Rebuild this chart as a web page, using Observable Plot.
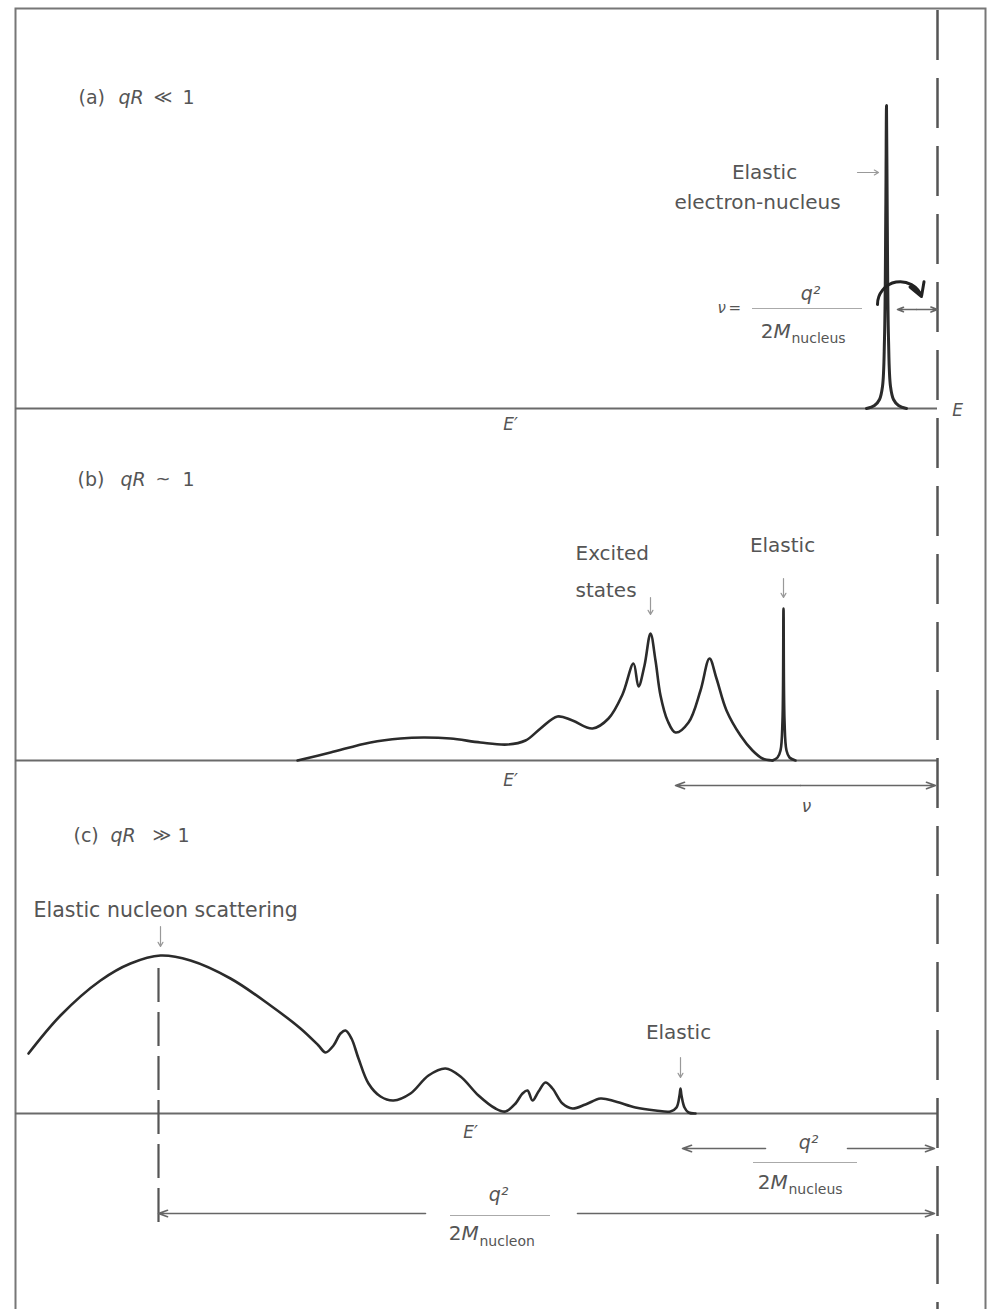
<!DOCTYPE html>
<html>
<head>
<meta charset="utf-8">
<script src="https://cdn.jsdelivr.net/npm/d3@7"></script>
<script src="https://cdn.jsdelivr.net/npm/@observablehq/plot@0.6"></script>
<style>
  html, body { margin: 0; padding: 0; background: #fff; }
  #chart svg { display: block; }
</style>
</head>
<body>
<div id="chart"></div>
<script>
// ---------- DATA (schematic spectra, energy E' in drawing units, intensity above baseline) ----------
const panels = ["a", "b", "c"];
const panelTitles = ["(a)", "(b)", "(c)"];
const panelRelations = ["≪", "~", "≫"];

// Panel (a): qR << 1 — elastic electron-nucleus peak only
const elasticA_E = [866, 874, 879, 882, 884, 885.3, 886, 886.7, 888, 890, 893, 898, 906];
const elasticA_I = [0, 3, 9, 22, 70, 200, 303, 200, 70, 22, 9, 3, 0];

// Panel (b): qR ~ 1 — excited states + elastic
const inelasticB_E = [297, 330, 370, 400, 423, 450, 480, 507, 525, 540, 557, 572, 592, 608, 622, 633, 638, 644, 650, 655, 660, 667, 675, 688, 700, 709, 716, 726, 740, 752, 762, 772];
const inelasticB_I = [0, 8, 18, 22, 23, 22, 18, 16, 20, 32, 44, 40, 32, 42, 66, 97, 74, 95, 127, 100, 65, 40, 28, 38, 70, 102, 82, 50, 25, 10, 2, 0];
const elasticB_E = [772, 777, 780, 782, 783, 784, 786, 789, 795];
const elasticB_I = [0, 3, 10, 40, 152, 40, 10, 3, 0];

// Panel (c): qR >> 1 — quasi-elastic nucleon scattering + small elastic
const spectrumC_E = [28, 60, 100, 130, 160, 190, 230, 270, 300, 318, 325, 333, 340, 345, 351, 358, 368, 380, 393, 410, 428, 445, 460, 478, 495, 505, 515, 522, 527, 532, 538, 545, 552, 562, 572, 585, 600, 615, 635, 655, 670, 676, 679, 680, 681, 684, 688, 695];
const spectrumC_I = [60, 98, 133, 150, 158, 153, 135, 108, 85, 68, 61, 68, 80, 83, 75, 55, 30, 17, 13, 20, 38, 45, 37, 18, 5, 2, 10, 20, 23, 13, 22, 31, 25, 10, 5, 9, 15, 12, 6, 3, 2, 6, 18, 25, 18, 6, 1, 0];

// Key energies
const E_beam = 937;         // incident energy E (dashed line)
const E_nucleonPeak = 158;  // quasi-elastic nucleon peak
const E_elasticB = 783;
const E_elasticC = 681;

// ---------- LAYOUT ----------
const W = 987, H = 1309;
const baseline = { a: 408, b: 760, c: 1113 };

const curves = [
  { id: "a-el", panel: "a", E: elasticA_E, I: elasticA_I, w: 3 },
  { id: "b-in", panel: "b", E: inelasticB_E, I: inelasticB_I, w: 2.6 },
  { id: "b-el", panel: "b", E: elasticB_E, I: elasticB_I, w: 2.6 },
  { id: "c-sp", panel: "c", E: spectrumC_E, I: spectrumC_I, w: 2.6 }
];
const rows = curves.flatMap(c => c.E.map((e, i) => ({ id: c.id, x: e, y: baseline[c.panel] - c.I[i], w: c.w })));

const FONT = "DejaVu Sans, Liberation Sans, sans-serif";
const TXT = "#555";

// panel titles
const titleY = { a: 97, b: 479, c: 835 };
const titleX = { a: [78, 118, 153, 182], b: [77, 120, 155, 182], c: [73, 110, 152, 177] };

const upright = [];   // {t,x,y,anchor,size}
const italic = [];
panels.forEach((p, i) => {
  const xs = titleX[p];
  upright.push({ t: panelTitles[i], x: xs[0], y: titleY[p], anchor: "start", size: 19 });
  italic.push({ t: "qR", x: xs[1], y: titleY[p], anchor: "start", size: 19 });
  upright.push({ t: panelRelations[i], x: xs[2], y: titleY[p], anchor: "start", size: 18 });
  upright.push({ t: "1", x: xs[3], y: titleY[p], anchor: "start", size: 19 });
});

// annotations
upright.push(
  { t: "Elastic", x: 764, y: 172, anchor: "middle", size: 20 },
  { t: "electron-nucleus", x: 757, y: 202, anchor: "middle", size: 20 },
  { t: "=", x: 728, y: 308, anchor: "start", size: 15 },
  { t: "2", x: 773, y: 331, anchor: "end", size: 20 },
  { t: "nucleus", x: 791, y: 338, anchor: "start", size: 14 },
  { t: "Excited", x: 575, y: 553, anchor: "start", size: 20 },
  { t: "states", x: 575, y: 590, anchor: "start", size: 20 },
  { t: "Elastic", x: 782, y: 545, anchor: "middle", size: 20 },
  { t: "Elastic nucleon scattering", x: 33, y: 910, anchor: "start", size: 20.5 },
  { t: "Elastic", x: 678, y: 1032, anchor: "middle", size: 20 },
  { t: "2", x: 770, y: 1182, anchor: "end", size: 20 },
  { t: "nucleus", x: 788, y: 1189, anchor: "start", size: 14 },
  { t: "2", x: 461, y: 1233, anchor: "end", size: 20 },
  { t: "nucleon", x: 479, y: 1241, anchor: "start", size: 14 }
);
italic.push(
  { t: "ν", x: 717, y: 308, anchor: "start", size: 15 },
  { t: "q²", x: 810, y: 293, anchor: "middle", size: 19 },
  { t: "M", x: 773, y: 331, anchor: "start", size: 20 },
  { t: "E′", x: 510, y: 424, anchor: "middle", size: 17 },
  { t: "E", x: 957, y: 410, anchor: "middle", size: 17 },
  { t: "E′", x: 510, y: 780, anchor: "middle", size: 17 },
  { t: "ν", x: 806, y: 806, anchor: "middle", size: 17 },
  { t: "E′", x: 470, y: 1132, anchor: "middle", size: 17 },
  { t: "q²", x: 808, y: 1142, anchor: "middle", size: 19 },
  { t: "M", x: 770, y: 1182, anchor: "start", size: 20 },
  { t: "q²", x: 498, y: 1194, anchor: "middle", size: 19 },
  { t: "M", x: 461, y: 1233, anchor: "start", size: 20 }
);

// fraction bars
const fractionBars = [
  { x1: 752, x2: 862, y: 308 },
  { x1: 753, x2: 857, y: 1162 },
  { x1: 450, x2: 550, y: 1215 }
];

// thin gray pointer arrows
const pointers = [
  { x1: 857, y1: 172, x2: 878, y2: 172 },
  { x1: 650, y1: 597, x2: 650, y2: 614 },
  { x1: 783, y1: 578, x2: 783, y2: 597 },
  { x1: 160, y1: 926, x2: 160, y2: 946 },
  { x1: 680, y1: 1057, x2: 680, y2: 1077 }
];
// dimension arrows (drawn from interior outward)
const dims = [
  { x1: 916, y1: 309, x2: 897, y2: 309 },
  { x1: 916, y1: 309, x2: E_beam, y2: 309 },
  { x1: 800, y1: 785, x2: 675, y2: 785 },
  { x1: 800, y1: 785, x2: E_beam - 2, y2: 785 },
  { x1: 765, y1: 1148, x2: E_elasticC + 1, y2: 1148 },
  { x1: 847, y1: 1148, x2: E_beam - 3, y2: 1148 },
  { x1: 425, y1: 1213, x2: E_nucleonPeak, y2: 1213 },
  { x1: 577, y1: 1213, x2: E_beam - 3, y2: 1213 }
];

function textMarks(list, style) {
  return list.map(d => Plot.text([d], {
    x: "x", y: "y", text: "t",
    textAnchor: d.anchor, lineAnchor: "middle",
    fontSize: d.size, fontStyle: style, fontFamily: FONT, fill: TXT
  }));
}

const chart = Plot.plot({
  width: W, height: H,
  margin: 0,
  x: { domain: [0, W], range: [0, W], axis: null },
  y: { domain: [0, H], range: [0, H], axis: null },
  style: { background: "#fff", fontFamily: FONT },
  marks: [
    // outer frame of the figure
    Plot.frame({ insetLeft: 15, insetTop: 8, insetRight: 2, insetBottom: -20, stroke: "#777", strokeWidth: 2 }),
    // panel baselines
    Plot.ruleY(panels, { y: p => baseline[p], x1: 15, x2: E_beam, stroke: "#6a6a6a", strokeWidth: 2 }),
    // incident energy E
    Plot.ruleX([E_beam], { y1: 10, y2: H, stroke: "#555", strokeWidth: 2.5, strokeDasharray: "50,18" }),
    // quasi-elastic peak marker
    Plot.ruleX([E_nucleonPeak], { y1: 968, y2: 1228, stroke: "#555", strokeWidth: 2.2, strokeDasharray: "34,10" }),
    // spectra
    Plot.line(rows, { x: "x", y: "y", z: "id", curve: "catmull-rom", stroke: "#2b2b2b", strokeWidth: "w" }),
    // fraction bars
    Plot.ruleY(fractionBars, { y: "y", x1: "x1", x2: "x2", stroke: "#aaa", strokeWidth: 1 }),
    // pointers and dimension arrows
    Plot.arrow(pointers, { x1: "x1", y1: "y1", x2: "x2", y2: "y2", stroke: "#999", strokeWidth: 1.2, headLength: 6 }),
    Plot.arrow(dims, { x1: "x1", y1: "y1", x2: "x2", y2: "y2", stroke: "#666", strokeWidth: 1.6, headLength: 9, headAngle: 40 }),
    // curved arrow in panel (a)
    Plot.arrow([{ x1: 877, y1: 304, x2: 921, y2: 296 }], { x1: "x1", y1: "y1", x2: "x2", y2: "y2", bend: 80, stroke: "#222", strokeWidth: 3, headLength: 9 }),
    ...textMarks(upright, "normal"),
    ...textMarks(italic, "italic")
  ]
});

document.getElementById("chart").appendChild(chart);
</script>
</body>
</html>
